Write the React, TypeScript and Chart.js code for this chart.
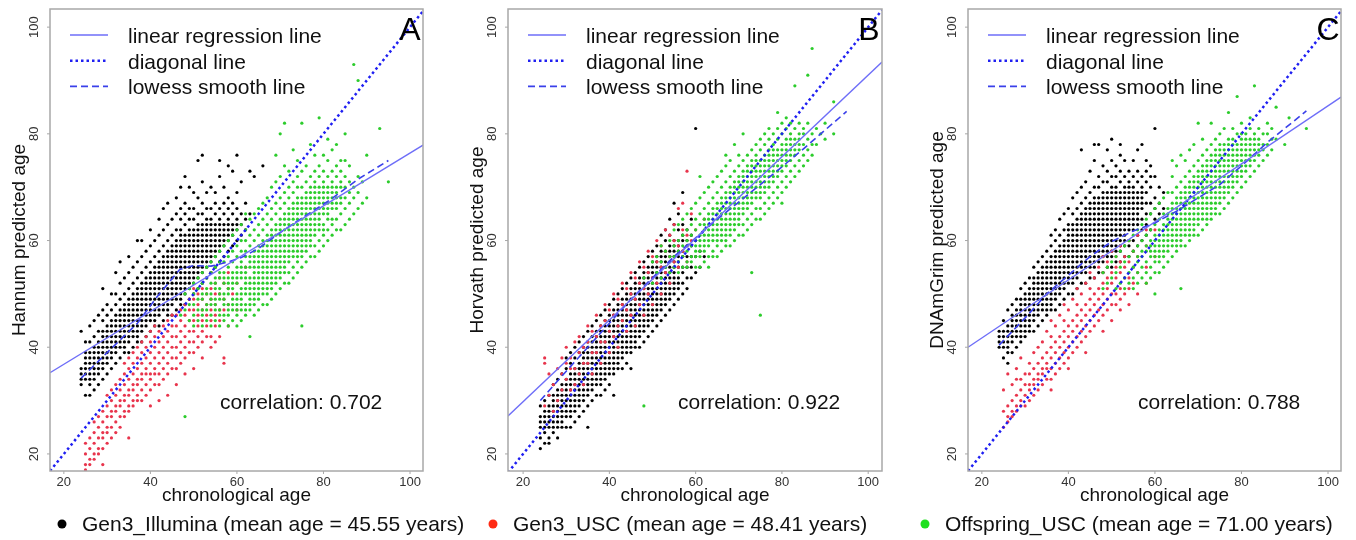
import React, { useEffect, useRef } from "react";
import { Chart, registerables } from "chart.js";
Chart.register(...registerables);

// ---------- DATA ----------
// each row: [chronological age, predicted age, predicted age, ...]
const X_TICKS = [20, 40, 60, 80, 100];
const Y_TICKS = [20, 40, 60, 80, 100];
const PANEL_LETTERS = ["A", "B", "C"];
const Y_TITLES = ["Hannum predicted age", "Horvath predicted age", "DNAmGrim predicted age"];
const X_TITLE = "chronological age";
const CORRELATIONS = ["0.702", "0.922", "0.788"];
const REG_INTERCEPTS = [26.9, 14.5, 30.86];
const REG_SLOPES = [0.495, 0.765, 0.544];
const LINE_LABELS = ["linear regression line", "diagonal line", "lowess smooth line"];
const GROUP_LABELS = [
  "Gen3_Illumina (mean age = 45.55 years)",
  "Gen3_USC (mean age = 48.41 years)",
  "Offspring_USC (mean age = 71.00 years)",
];

const A_BLACK: number[][] = [
  [24, 33, 34, 35, 36, 43], [25, 31, 34, 35, 36, 37, 38, 39, 41], [26, 31, 33, 34, 35, 36, 37, 38, 39, 41, 44],
  [27, 32, 34, 35, 36, 37, 38, 39, 40, 42, 45], [28, 33, 35, 36, 37, 38, 39, 40, 41, 43, 46],
  [29, 34, 36, 37, 38, 39, 40, 41, 42, 43, 45, 47, 51], [30, 35, 37, 38, 39, 40, 41, 42, 43, 44, 46, 48],
  [31, 36, 38, 39, 40, 41, 42, 43, 44, 45, 47, 50], [32, 37, 39, 40, 41, 42, 43, 44, 45, 46, 48, 50, 54],
  [33, 38, 40, 41, 42, 43, 44, 45, 46, 47, 49, 52, 56], [34, 39, 40, 41, 42, 43, 44, 45, 46, 47, 48, 50, 53],
  [35, 39, 41, 42, 43, 44, 45, 46, 47, 48, 49, 51, 54, 57], [36, 40, 42, 43, 44, 45, 46, 47, 48, 49, 50, 52, 55],
  [37, 41, 42, 43, 44, 45, 46, 47, 48, 49, 50, 51, 53, 56, 60],
  [38, 41, 43, 44, 45, 46, 47, 48, 49, 50, 51, 52, 54, 57, 60],
  [39, 42, 44, 45, 46, 47, 48, 49, 50, 51, 52, 53, 55, 58],
  [40, 43, 45, 46, 47, 48, 49, 50, 51, 52, 53, 54, 56, 59, 62],
  [41, 44, 45, 46, 47, 48, 49, 50, 51, 52, 53, 54, 55, 57, 60],
  [42, 44, 46, 47, 48, 49, 50, 51, 52, 53, 54, 55, 56, 58, 61, 64],
  [43, 45, 47, 48, 49, 50, 51, 52, 53, 54, 55, 56, 57, 59, 62, 66],
  [44, 46, 47, 48, 49, 50, 51, 52, 53, 54, 55, 56, 57, 58, 60, 63, 67],
  [45, 46, 48, 49, 50, 51, 52, 53, 54, 55, 56, 57, 58, 59, 61, 64],
  [46, 47, 49, 50, 51, 52, 53, 54, 55, 56, 57, 58, 59, 60, 62, 65, 68],
  [47, 48, 49, 50, 51, 52, 53, 54, 55, 56, 57, 58, 59, 60, 61, 62, 64, 66, 70],
  [48, 48, 50, 51, 52, 53, 54, 55, 56, 57, 58, 59, 60, 61, 63, 65, 67, 72],
  [49, 49, 51, 52, 53, 54, 55, 56, 57, 58, 59, 60, 61, 62, 64, 66, 70],
  [50, 50, 52, 53, 54, 55, 56, 57, 58, 59, 60, 61, 62, 64, 66, 69],
  [51, 51, 53, 54, 55, 56, 57, 58, 59, 60, 61, 62, 63, 65, 68, 75],
  [52, 52, 54, 55, 56, 57, 58, 59, 60, 61, 62, 63, 65, 67, 71, 76],
  [53, 53, 55, 56, 57, 58, 59, 60, 61, 62, 63, 64, 66, 69],
  [54, 54, 56, 57, 58, 59, 60, 61, 62, 63, 64, 66, 70],
  [55, 55, 57, 58, 59, 60, 61, 62, 63, 65, 67, 69],
  [56, 56, 58, 59, 60, 61, 62, 63, 64, 66, 72, 75], [57, 57, 59, 60, 61, 62, 63, 65, 67, 70],
  [58, 58, 60, 61, 62, 63, 64, 66, 68, 74], [59, 59, 61, 62, 63, 65, 67, 73],
  [60, 60, 62, 63, 64, 66, 69, 76], [61, 61, 63, 65, 71], [62, 62, 64, 67], [63, 65, 73], [64, 72], [66, 74],
];
const A_RED: number[][] = [
  [25, 17, 18, 20, 22], [26, 18, 19, 21, 23], [27, 19, 20, 22, 24, 26], [28, 20, 21, 23, 25, 27],
  [29, 18, 21, 23, 24, 26, 28], [30, 22, 24, 25, 27, 29, 31], [31, 23, 25, 27, 28, 30, 32],
  [32, 24, 26, 28, 29, 31, 33], [33, 25, 27, 29, 30, 32, 34], [34, 27, 28, 30, 31, 33, 35, 37],
  [35, 23, 28, 29, 31, 32, 34, 36, 38], [36, 29, 30, 32, 33, 35, 37, 39], [37, 30, 31, 33, 34, 36, 38, 40],
  [38, 30, 32, 34, 35, 37, 39, 41], [39, 31, 33, 35, 36, 38, 40, 42], [40, 29, 32, 34, 35, 37, 39, 41, 43],
  [41, 33, 35, 36, 38, 40, 42, 44], [42, 30, 33, 35, 37, 39, 41, 43], [43, 34, 36, 38, 40, 42, 44],
  [44, 31, 35, 37, 39, 41, 43, 45], [45, 36, 38, 40, 42, 44, 46], [46, 33, 36, 38, 40, 42, 44, 46],
  [47, 37, 39, 41, 43, 45, 47], [48, 35, 38, 40, 42, 44, 46, 48], [49, 39, 41, 43, 45, 47, 49],
  [50, 36, 39, 41, 43, 45, 47, 49, 51], [51, 40, 42, 44, 46, 48, 50], [52, 38, 41, 43, 45, 47, 49, 51],
  [53, 42, 44, 46, 48, 50], [54, 40, 42, 45, 47, 49, 51, 54], [55, 41, 44, 46, 48, 50, 52], [56, 42, 45, 47, 50, 53],
  [57, 37, 38, 47, 49, 52], [58, 44, 48, 51, 54], [59, 50], [60, 47, 52], [62, 55],
];
const A_GREEN: number[][] = [
  [47, 46], [48, 27, 47, 50], [49, 45, 48, 51], [50, 44, 46, 48, 50, 52], [51, 45, 47, 49, 51, 53],
  [52, 44, 46, 47, 49, 50, 52, 54], [53, 45, 47, 48, 50, 51, 53, 55], [54, 44, 46, 48, 49, 50, 52, 54, 56],
  [55, 45, 47, 48, 49, 51, 52, 53, 55, 57], [56, 44, 46, 47, 49, 50, 51, 53, 54, 56, 58],
  [57, 45, 46, 48, 49, 50, 52, 53, 54, 56, 59], [58, 44, 46, 47, 48, 50, 51, 52, 53, 55, 57, 60],
  [59, 45, 47, 48, 49, 51, 52, 53, 54, 56, 58, 61], [60, 44, 46, 47, 48, 49, 50, 52, 53, 54, 55, 57, 59, 62],
  [61, 45, 47, 48, 49, 50, 51, 53, 54, 55, 56, 58, 60, 63],
  [62, 46, 47, 48, 50, 51, 52, 53, 54, 55, 57, 58, 60, 62, 65],
  [63, 42, 47, 48, 49, 50, 51, 52, 53, 55, 56, 57, 59, 61, 64],
  [64, 46, 48, 49, 50, 51, 52, 53, 54, 55, 56, 57, 58, 60, 62, 65],
  [65, 47, 49, 50, 51, 52, 53, 54, 55, 56, 57, 58, 59, 61, 63, 66],
  [66, 48, 50, 51, 52, 53, 54, 55, 56, 57, 58, 59, 60, 62, 64, 67],
  [67, 48, 50, 51, 52, 53, 54, 55, 56, 57, 58, 59, 60, 61, 63, 65, 68],
  [68, 49, 51, 52, 53, 54, 55, 56, 57, 58, 59, 60, 61, 62, 64, 66, 70],
  [69, 50, 52, 53, 54, 55, 56, 57, 58, 59, 60, 61, 62, 63, 65, 67, 71, 76],
  [70, 51, 53, 54, 55, 56, 57, 58, 59, 60, 61, 62, 63, 64, 66, 68, 72, 80],
  [71, 52, 54, 55, 56, 57, 58, 59, 60, 61, 62, 63, 64, 65, 67, 69, 74, 82],
  [72, 52, 54, 56, 57, 58, 59, 60, 61, 62, 63, 64, 65, 66, 68, 70, 73],
  [73, 53, 55, 57, 58, 59, 60, 61, 62, 63, 64, 65, 66, 67, 69, 71, 77],
  [74, 54, 56, 57, 58, 59, 60, 61, 62, 63, 64, 65, 66, 67, 68, 70, 72, 75],
  [75, 44, 55, 57, 58, 59, 60, 61, 62, 63, 64, 65, 66, 67, 68, 70, 73, 82],
  [76, 56, 58, 59, 60, 61, 62, 63, 64, 65, 66, 67, 68, 69, 71, 74],
  [77, 57, 59, 60, 61, 62, 63, 64, 65, 66, 67, 68, 69, 70, 72, 78],
  [78, 57, 59, 61, 62, 63, 64, 65, 66, 67, 68, 69, 70, 71, 73, 76],
  [79, 58, 60, 62, 63, 64, 65, 66, 67, 68, 69, 70, 72, 74, 83],
  [80, 59, 61, 62, 63, 65, 66, 67, 68, 69, 70, 71, 73, 76],
  [81, 60, 62, 64, 65, 66, 67, 68, 69, 70, 72, 75, 79], [82, 61, 63, 64, 66, 67, 68, 69, 70, 71, 73, 77],
  [83, 62, 64, 66, 67, 68, 69, 70, 72, 74, 78], [84, 62, 65, 67, 68, 70, 71, 73, 75],
  [85, 63, 66, 68, 70, 72, 75, 80], [86, 64, 67, 69, 71, 74], [87, 65, 68, 70, 93], [88, 66, 69, 72, 90],
  [89, 67, 71], [90, 68, 76], [93, 81], [95, 71],
];
const A_LOWESS: number[][] = [
  [24, 34.2], [30, 39], [37, 44.5], [41.5, 49.4], [46.8, 54.6], [50, 55.3], [54, 55.2], [58, 56],
  [61, 56.8], [65, 58.5], [70, 61.5], [75, 64.2], [81.5, 67.6], [88, 71.5], [95, 75],
];

const B_BLACK: number[][] = [
  [24, 21, 23, 25, 26, 27, 29], [25, 22, 24, 25, 26, 27, 28, 30], [26, 22, 23, 25, 26, 27, 28, 29, 31],
  [27, 24, 25, 26, 27, 28, 29, 30, 31, 33], [28, 23, 25, 26, 27, 28, 29, 30, 31, 32, 34],
  [29, 25, 26, 27, 28, 29, 30, 31, 32, 33, 35], [30, 25, 27, 28, 29, 30, 31, 32, 33, 34, 36, 38],
  [31, 25, 27, 28, 29, 30, 31, 32, 33, 34, 35, 37, 39], [32, 26, 28, 29, 30, 31, 32, 33, 34, 35, 36, 38, 40],
  [33, 27, 29, 30, 31, 32, 33, 34, 35, 36, 37, 39, 41], [34, 28, 30, 31, 32, 33, 34, 35, 36, 37, 38, 39, 40, 42],
  [35, 25, 29, 31, 32, 33, 34, 35, 36, 37, 38, 39, 40, 41, 43],
  [36, 30, 32, 33, 34, 35, 36, 37, 38, 39, 40, 41, 42, 44],
  [37, 31, 33, 34, 35, 36, 37, 38, 39, 40, 41, 42, 43, 45],
  [38, 31, 33, 34, 35, 36, 37, 38, 39, 40, 41, 42, 43, 44, 46],
  [39, 32, 34, 35, 36, 37, 38, 39, 40, 41, 42, 43, 44, 45, 47],
  [40, 33, 35, 36, 37, 38, 39, 40, 41, 42, 43, 44, 45, 46, 48],
  [41, 31, 35, 36, 37, 38, 39, 40, 41, 42, 43, 44, 45, 46, 47, 49],
  [42, 36, 37, 38, 39, 40, 41, 42, 43, 44, 45, 46, 47, 48, 50],
  [43, 36, 38, 39, 40, 41, 42, 43, 44, 45, 46, 47, 48, 49, 51],
  [44, 37, 39, 40, 41, 42, 43, 44, 45, 46, 47, 48, 49, 50, 52],
  [45, 36, 39, 40, 41, 42, 43, 44, 45, 46, 47, 48, 49, 50, 51, 53],
  [46, 40, 41, 42, 43, 44, 45, 46, 47, 48, 49, 50, 51, 52, 54],
  [47, 40, 42, 43, 44, 45, 46, 47, 48, 49, 50, 51, 52, 53, 55],
  [48, 41, 43, 44, 45, 46, 47, 48, 49, 50, 51, 52, 53, 54, 56],
  [49, 42, 44, 45, 46, 47, 48, 49, 50, 51, 52, 53, 54, 55, 57],
  [50, 43, 45, 46, 47, 48, 49, 50, 51, 52, 53, 54, 55, 56, 58],
  [51, 44, 46, 47, 48, 49, 50, 51, 52, 53, 54, 55, 56, 57, 59],
  [52, 45, 47, 48, 49, 50, 51, 52, 53, 54, 55, 56, 57, 58, 61],
  [53, 46, 48, 49, 50, 51, 52, 53, 54, 55, 56, 57, 58, 60, 62],
  [54, 47, 49, 50, 51, 52, 53, 54, 55, 56, 57, 58, 59, 61, 64],
  [55, 48, 50, 51, 52, 53, 54, 55, 56, 57, 58, 59, 60, 63, 67],
  [56, 49, 51, 52, 53, 55, 56, 57, 58, 59, 60, 62, 65], [57, 50, 52, 54, 55, 57, 58, 60, 61, 63, 69],
  [58, 51, 53, 55, 57, 59, 60, 62], [59, 53, 55, 57, 59, 61, 64], [60, 54, 57, 60, 81], [61, 55, 58], [62, 57],
];
const B_RED: number[][] = [
  [25, 29, 37, 38], [26, 31, 35], [27, 28, 33], [28, 30, 36], [29, 32, 35, 38], [30, 34, 37, 40],
  [31, 32, 36, 38], [32, 33, 36, 41], [33, 35, 39, 42], [34, 33, 37, 40], [35, 37, 41, 44], [36, 35, 39, 43],
  [37, 39, 42, 46], [38, 37, 41, 44], [39, 41, 45, 48], [40, 39, 43, 47], [41, 42, 46, 50], [42, 40, 44, 49],
  [43, 45, 48, 52], [44, 43, 47, 51], [45, 46, 50, 54], [46, 44, 49, 53], [47, 48, 52, 56], [48, 46, 51, 55],
  [49, 50, 54, 58], [50, 48, 53, 57], [51, 52, 56, 60], [52, 50, 55, 59], [53, 54, 58, 62], [54, 52, 57, 61],
  [55, 56, 60, 63], [56, 55, 59, 66], [57, 58, 62, 67], [58, 56, 61, 73], [59, 60, 65], [60, 62], [62, 64],
];
const B_GREEN: number[][] = [
  [48, 29, 53], [50, 52, 56], [51, 54, 57], [52, 53, 56, 59], [53, 55, 58], [54, 54, 57, 60],
  [55, 55, 57, 59, 62], [56, 54, 56, 58, 60, 63], [57, 55, 57, 59, 61, 64], [58, 55, 56, 58, 60, 62, 65],
  [59, 56, 57, 59, 61, 63, 66], [60, 55, 57, 58, 59, 60, 62, 64, 67],
  [61, 55, 57, 58, 59, 60, 61, 63, 65, 68, 72], [62, 56, 58, 59, 60, 61, 62, 63, 64, 66, 69],
  [63, 55, 57, 59, 60, 61, 62, 63, 64, 65, 67, 70], [64, 57, 58, 60, 61, 62, 63, 64, 65, 66, 68, 71],
  [65, 57, 59, 60, 61, 62, 63, 64, 65, 66, 67, 69, 72], [66, 58, 60, 61, 62, 63, 64, 65, 66, 67, 68, 70, 73],
  [67, 59, 60, 61, 62, 63, 64, 65, 66, 67, 68, 69, 71, 74, 76],
  [68, 59, 61, 62, 63, 64, 65, 66, 67, 68, 69, 70, 72, 75],
  [69, 60, 62, 63, 64, 65, 66, 67, 68, 69, 70, 71, 73, 78],
  [70, 61, 63, 64, 65, 66, 67, 68, 69, 70, 71, 72, 74, 76],
  [71, 61, 63, 65, 66, 67, 68, 69, 70, 71, 72, 73, 75, 80],
  [72, 62, 64, 66, 67, 68, 69, 70, 71, 72, 73, 74, 76],
  [73, 54, 63, 65, 67, 68, 69, 70, 71, 72, 73, 74, 75, 77],
  [74, 64, 66, 68, 69, 70, 71, 72, 73, 74, 75, 76, 78],
  [75, 46, 64, 66, 68, 69, 70, 71, 72, 73, 74, 75, 77, 79],
  [76, 65, 67, 69, 70, 71, 72, 73, 74, 75, 76, 78, 80],
  [77, 66, 68, 70, 71, 72, 73, 74, 75, 76, 77, 79, 81],
  [78, 67, 69, 71, 72, 73, 74, 75, 76, 77, 78, 80], [79, 68, 70, 72, 73, 74, 75, 76, 77, 79, 81, 84],
  [80, 67, 69, 71, 73, 74, 75, 76, 77, 78, 80, 82], [81, 70, 72, 74, 75, 76, 77, 78, 79, 81, 83],
  [82, 71, 73, 75, 76, 77, 78, 79, 80, 82], [83, 72, 74, 76, 77, 78, 79, 81, 89],
  [84, 73, 75, 77, 78, 79, 80, 82], [85, 74, 76, 78, 80, 81], [86, 75, 77, 79, 82, 91], [87, 76, 78, 80, 96],
  [88, 78, 81], [89, 80], [90, 79, 82], [92, 80, 86],
];
const B_LOWESS: number[][] = [
  [24, 30], [30, 35.5], [35, 40], [40, 44.5], [45, 49], [50, 53], [55, 57], [60, 60.5], [65, 64],
  [70, 67.2], [75, 70.5], [80, 73.8], [85, 77.2], [90, 80.7], [95, 84.2],
];

const C_BLACK: number[][] = [
  [24, 40, 41, 42, 43], [25, 38, 40, 41, 42, 43, 45], [26, 37, 39, 40, 41, 42, 43, 44, 47],
  [27, 39, 41, 42, 43, 44, 45, 46, 48], [28, 40, 42, 43, 44, 45, 46, 47, 49],
  [29, 41, 42, 43, 44, 45, 46, 47, 48, 49, 51], [30, 42, 43, 44, 45, 46, 47, 48, 49, 50, 52],
  [31, 43, 44, 45, 46, 47, 48, 49, 50, 51, 53], [32, 43, 45, 46, 47, 48, 49, 50, 51, 52, 53, 55],
  [33, 44, 46, 47, 48, 49, 50, 51, 52, 53, 54, 56], [34, 45, 47, 48, 49, 50, 51, 52, 53, 54, 55, 57],
  [35, 46, 47, 48, 49, 50, 51, 52, 53, 54, 55, 56, 58],
  [36, 47, 48, 49, 50, 51, 52, 53, 54, 55, 56, 57, 59, 61],
  [37, 47, 49, 50, 51, 52, 53, 54, 55, 56, 57, 58, 60, 62],
  [38, 48, 50, 51, 52, 53, 54, 55, 56, 57, 58, 59, 61, 64],
  [39, 49, 51, 52, 53, 54, 55, 56, 57, 58, 59, 60, 62, 65],
  [40, 50, 52, 53, 54, 55, 56, 57, 58, 59, 60, 61, 62, 63, 66],
  [41, 50, 52, 53, 54, 55, 56, 57, 58, 59, 60, 61, 62, 63, 65, 68],
  [42, 51, 53, 54, 55, 56, 57, 58, 59, 60, 61, 62, 63, 64, 66, 69],
  [43, 52, 54, 55, 56, 57, 58, 59, 60, 61, 62, 63, 64, 65, 67, 70, 77],
  [44, 52, 54, 55, 56, 57, 58, 59, 60, 61, 62, 63, 64, 65, 66, 68, 71],
  [45, 53, 55, 56, 57, 58, 59, 60, 61, 62, 63, 64, 65, 66, 67, 69, 73],
  [46, 53, 55, 56, 57, 58, 59, 60, 61, 62, 63, 64, 65, 66, 67, 68, 70, 75, 78],
  [47, 54, 56, 57, 58, 59, 60, 61, 62, 63, 64, 65, 66, 67, 68, 70, 72, 78],
  [48, 54, 56, 57, 58, 59, 60, 61, 62, 63, 64, 65, 66, 67, 68, 69, 71, 74],
  [49, 55, 57, 58, 59, 60, 61, 62, 63, 64, 65, 66, 67, 68, 69, 71, 73, 77],
  [50, 55, 57, 58, 59, 60, 61, 62, 63, 64, 65, 66, 67, 68, 69, 70, 72, 75, 79],
  [51, 56, 58, 59, 60, 61, 62, 63, 64, 65, 66, 67, 68, 69, 70, 72, 74],
  [52, 56, 58, 59, 60, 61, 62, 63, 64, 65, 66, 67, 68, 69, 71, 73, 76, 78],
  [53, 57, 59, 60, 61, 62, 63, 64, 65, 66, 67, 68, 69, 70, 72, 75],
  [54, 57, 59, 60, 62, 63, 64, 65, 66, 67, 68, 69, 70, 71, 73],
  [55, 58, 60, 62, 63, 64, 65, 66, 67, 68, 69, 70, 72, 75],
  [56, 59, 61, 63, 64, 65, 66, 67, 68, 69, 71, 73, 77], [57, 60, 62, 64, 66, 67, 68, 69, 70, 72, 78],
  [58, 61, 63, 65, 67, 69, 71, 73, 75], [59, 62, 65, 67, 70, 72, 74], [60, 64, 66, 68, 72, 81],
  [61, 65, 67, 70], [62, 66, 69],
];
const C_RED: number[][] = [
  [25, 25, 28, 32], [26, 26, 27, 29, 35], [27, 27, 28, 30, 33], [28, 28, 29, 31, 34, 36],
  [29, 29, 30, 32, 34, 38], [30, 29, 31, 33, 35], [31, 30, 32, 33, 35, 37], [32, 31, 33, 34, 36, 39],
  [33, 32, 34, 35, 37, 40], [34, 33, 35, 36, 38, 41], [35, 34, 36, 37, 39, 43], [36, 32, 34, 36, 38, 40, 42, 45],
  [37, 35, 37, 39, 41, 44], [38, 36, 38, 40, 42, 46], [39, 37, 39, 41, 43, 45, 48], [40, 36, 38, 40, 42, 44, 47],
  [41, 39, 41, 43, 45, 49], [42, 40, 42, 44, 46, 48, 51], [43, 41, 43, 45, 47, 50], [44, 39, 42, 44, 46, 48, 52],
  [45, 43, 45, 47, 49, 51, 54], [46, 44, 46, 48, 50, 53], [47, 45, 47, 49, 51, 55],
  [48, 43, 46, 48, 50, 52, 54, 57], [49, 47, 49, 51, 53, 56], [50, 45, 48, 50, 52, 54, 58], [51, 48, 50, 53, 55, 57],
  [52, 47, 49, 51, 54, 56, 59], [53, 50, 53, 55, 57], [54, 48, 51, 53, 56, 60], [55, 52, 55, 58], [56, 50, 54, 57, 61],
  [58, 52, 55, 59, 62], [60, 57, 62],
];
const C_GREEN: number[][] = [
  [48, 51, 54], [49, 52, 55], [50, 53, 56], [51, 51, 54, 57], [52, 52, 55, 58], [53, 51, 53, 56, 59],
  [54, 52, 54, 57, 60], [55, 51, 53, 55, 58, 61], [56, 52, 54, 56, 57, 59, 62], [57, 53, 55, 57, 58, 60, 63],
  [58, 52, 54, 56, 58, 59, 61, 64], [59, 53, 55, 57, 58, 59, 60, 62, 65],
  [60, 50, 54, 56, 57, 58, 59, 60, 61, 63, 66], [61, 54, 56, 57, 58, 59, 60, 61, 62, 64, 67],
  [62, 55, 57, 58, 59, 60, 61, 62, 63, 65, 68], [63, 56, 58, 59, 60, 61, 62, 63, 64, 65, 66, 69],
  [64, 57, 59, 60, 61, 62, 63, 64, 65, 66, 67, 69, 72, 75],
  [65, 58, 59, 60, 61, 62, 63, 64, 65, 66, 67, 68, 70, 74],
  [66, 51, 59, 60, 61, 62, 63, 64, 65, 66, 67, 68, 69, 71, 76],
  [67, 59, 61, 62, 63, 64, 65, 66, 67, 68, 69, 70, 72, 75],
  [68, 60, 61, 62, 63, 64, 65, 66, 67, 68, 69, 70, 71, 73, 77],
  [69, 61, 62, 63, 64, 65, 66, 67, 68, 69, 70, 71, 72, 74, 78],
  [70, 61, 63, 64, 65, 66, 67, 68, 69, 70, 71, 72, 73, 75, 82],
  [71, 62, 64, 65, 66, 67, 68, 69, 70, 71, 72, 73, 74, 76, 79],
  [72, 63, 64, 65, 66, 67, 68, 69, 70, 71, 72, 73, 74, 75, 77],
  [73, 64, 65, 66, 67, 68, 69, 70, 71, 72, 73, 74, 75, 76, 78, 82],
  [74, 65, 66, 67, 68, 69, 70, 71, 72, 73, 74, 75, 76, 77, 79],
  [75, 65, 67, 68, 69, 70, 71, 72, 73, 74, 75, 76, 77, 78, 80],
  [76, 66, 68, 69, 70, 71, 72, 73, 74, 75, 76, 77, 78, 81],
  [77, 67, 69, 70, 71, 72, 73, 74, 75, 76, 77, 78, 79, 84],
  [78, 68, 70, 71, 72, 73, 74, 75, 76, 77, 78, 79, 81],
  [79, 69, 71, 72, 73, 74, 75, 76, 77, 78, 80, 87], [80, 70, 72, 73, 74, 75, 76, 77, 78, 79, 80, 82],
  [81, 71, 73, 74, 75, 76, 77, 78, 79, 80], [82, 72, 74, 75, 76, 77, 78, 79, 81, 83],
  [83, 73, 75, 76, 77, 78, 79, 80, 89], [84, 74, 76, 77, 78, 79, 81], [85, 75, 77, 78, 80],
  [86, 76, 78, 80, 82], [87, 77, 79, 81], [88, 79, 85], [90, 78], [91, 83], [95, 81],
];
const C_LOWESS: number[][] = [
  [24, 40.4], [30, 45.5], [35, 50], [40, 53.5], [45, 57], [50, 59.8], [55, 61.8], [60, 63.3], [65, 65.5],
  [70, 68], [75, 70.5], [80, 74], [86, 78.4], [90, 81], [95, 84.3],
];

const BLACK_SETS = [A_BLACK, B_BLACK, C_BLACK];
const RED_SETS = [A_RED, B_RED, C_RED];
const GREEN_SETS = [A_GREEN, B_GREEN, C_GREEN];
const LOWESS_SETS = [A_LOWESS, B_LOWESS, C_LOWESS];

// ---------- STYLE / LAYOUT ----------
const FONT = '"Liberation Sans", Arial, Helvetica, sans-serif';
const GROUP_COLORS = ["#000000", "#e8344c", "#2ccc2c"];
const LEGEND_DOT_COLORS = ["#000000", "#ff2a14", "#1ee01e"];
const REG_COLOR = "#6e6ef8";
const DIAG_COLOR = "#1f1ff2";
const LOWESS_COLOR = "#3a40ea";
const H = 540;
const PAD_TOP = 9;
const PAD_BOTTOM = 69;
const LAYOUT = [
  { left: 0, width: 490, padL: 50, padR: 67, xMin: 16.8, xMax: 103, dotX: 62 },
  { left: 460, width: 452, padL: 48, padR: 30, xMin: 16.5, xMax: 103.2, dotX: 493 },
  { left: 912, width: 444, padL: 56, padR: 15, xMin: 16.8, xMax: 103, dotX: 925 },
];
const Y_MIN = 16.8;
const Y_MAX = 103.4;

function toPoints(rows: number[][]) {
  return rows.flatMap(([age, ...ys]) => ys.map((y) => ({ x: age, y })));
}

function makeDecor(i: number) {
  return {
    id: "decor" + i,
    afterDraw(chart: any) {
      const { ctx, chartArea: ca, scales } = chart;
      const xs = scales.x;
      const ys = scales.y;
      const lay = LAYOUT[i];
      ctx.save();
      ctx.strokeStyle = "#a8a8a8";
      ctx.lineWidth = 1.5;
      ctx.setLineDash([]);
      ctx.strokeRect(ca.left, ca.top, ca.right - ca.left, ca.bottom - ca.top);
      ctx.lineWidth = 1;
      ctx.fillStyle = "#333";
      ctx.font = `13px ${FONT}`;
      ctx.textAlign = "center";
      ctx.textBaseline = "alphabetic";
      X_TICKS.forEach((v) => {
        const px = xs.getPixelForValue(v);
        ctx.beginPath();
        ctx.moveTo(px, ca.bottom);
        ctx.lineTo(px, ca.bottom + 3);
        ctx.stroke();
        ctx.fillText(String(v), px, ca.bottom + 15);
      });
      Y_TICKS.forEach((v) => {
        const py = ys.getPixelForValue(v);
        ctx.beginPath();
        ctx.moveTo(ca.left, py);
        ctx.lineTo(ca.left - 3, py);
        ctx.stroke();
        ctx.save();
        ctx.translate(ca.left - 12, py);
        ctx.rotate(-Math.PI / 2);
        ctx.fillText(String(v), 0, 0);
        ctx.restore();
      });
      ctx.fillStyle = "#111";
      ctx.font = `19px ${FONT}`;
      ctx.fillText(X_TITLE, (ca.left + ca.right) / 2, ca.bottom + 30);
      ctx.save();
      ctx.translate(ca.left - 25, (ca.top + ca.bottom) / 2);
      ctx.rotate(-Math.PI / 2);
      ctx.fillText(Y_TITLES[i], 0, 0);
      ctx.restore();
      const styles = [
        { c: REG_COLOR, w: 1.4, d: [] as number[] },
        { c: DIAG_COLOR, w: 2.5, d: [2.5, 3] },
        { c: LOWESS_COLOR, w: 1.6, d: [7, 4] },
      ];
      LINE_LABELS.forEach((lab, k) => {
        const yl = ca.top + 26 + k * 25.7;
        ctx.strokeStyle = styles[k].c;
        ctx.lineWidth = styles[k].w;
        ctx.setLineDash(styles[k].d);
        ctx.beginPath();
        ctx.moveTo(ca.left + 20, yl);
        ctx.lineTo(ca.left + 58, yl);
        ctx.stroke();
        ctx.setLineDash([]);
        ctx.fillStyle = "#111";
        ctx.font = `21px ${FONT}`;
        ctx.textAlign = "left";
        ctx.fillText(lab, ca.left + 78, yl + 8);
      });
      ctx.font = `21px ${FONT}`;
      ctx.textAlign = "left";
      ctx.fillText("correlation: " + CORRELATIONS[i], ca.left + 170, ca.top + 400);
      ctx.font = `32px ${FONT}`;
      ctx.textAlign = "center";
      ctx.fillStyle = "#000";
      ctx.fillText(PANEL_LETTERS[i], ca.right - 13, ca.top + 31);
      const dx = lay.dotX - lay.left;
      ctx.fillStyle = LEGEND_DOT_COLORS[i];
      ctx.beginPath();
      ctx.arc(dx, 524, 4.5, 0, Math.PI * 2);
      ctx.fill();
      ctx.fillStyle = "#111";
      ctx.font = `21px ${FONT}`;
      ctx.textAlign = "left";
      ctx.fillText(GROUP_LABELS[i], dx + 20, 531);
      ctx.restore();
    },
  };
}

function Panel({ i }: { i: number }) {
  const ref = useRef<HTMLCanvasElement | null>(null);
  useEffect(() => {
    const lay = LAYOUT[i];
    const xMin = lay.xMin;
    const xMax = lay.xMax;
    const a = REG_INTERCEPTS[i];
    const b = REG_SLOPES[i];
    const pt = (color: string, rows: number[][], order: number) => ({
      data: toPoints(rows),
      showLine: false,
      pointStyle: "circle",
      pointRadius: 1.6,
      pointHoverRadius: 1.6,
      pointBorderWidth: 0,
      pointBackgroundColor: color,
      pointBorderColor: color,
      order,
    });
    const ln = (data: any[], color: string, w: number, dash: number[], order: number) => ({
      data,
      showLine: true,
      pointRadius: 0,
      pointHoverRadius: 0,
      borderColor: color,
      borderWidth: w,
      borderDash: dash,
      fill: false,
      tension: 0,
      order,
    });
    const chart = new Chart(ref.current as HTMLCanvasElement, {
      type: "scatter",
      data: {
        datasets: [
          ln([{ x: xMin, y: a + b * xMin }, { x: xMax, y: a + b * xMax }], REG_COLOR, 1.4, [], 0),
          ln([{ x: xMin, y: xMin }, { x: xMax, y: xMax }], DIAG_COLOR, 2.5, [2.5, 3], 1),
          ln(LOWESS_SETS[i].map(([x, y]) => ({ x, y })), LOWESS_COLOR, 1.6, [7, 4], 2),
          pt(GROUP_COLORS[2], GREEN_SETS[i], 3),
          pt(GROUP_COLORS[1], RED_SETS[i], 4),
          pt(GROUP_COLORS[0], BLACK_SETS[i], 5),
        ] as any,
      },
      options: {
        animation: false,
        responsive: false,
        maintainAspectRatio: false,
        events: [],
        layout: { padding: { left: lay.padL, right: lay.padR, top: PAD_TOP, bottom: PAD_BOTTOM } },
        plugins: { legend: { display: false }, tooltip: { enabled: false }, title: { display: false } },
        scales: {
          x: { type: "linear", min: xMin, max: xMax, display: false },
          y: { type: "linear", min: Y_MIN, max: Y_MAX, display: false },
        },
      },
      plugins: [makeDecor(i)],
    } as any);
    return () => chart.destroy();
  }, [i]);
  const lay = LAYOUT[i];
  return (
    <canvas
      ref={ref}
      width={lay.width}
      height={H}
      style={{ position: "absolute", left: lay.left, top: 0, width: lay.width, height: H }}
    />
  );
}

export default function App() {
  return (
    <div style={{ position: "absolute", left: 0, top: 0, width: 1356, height: 540, background: "#fff" }}>
      <Panel i={0} />
      <Panel i={1} />
      <Panel i={2} />
    </div>
  );
}
